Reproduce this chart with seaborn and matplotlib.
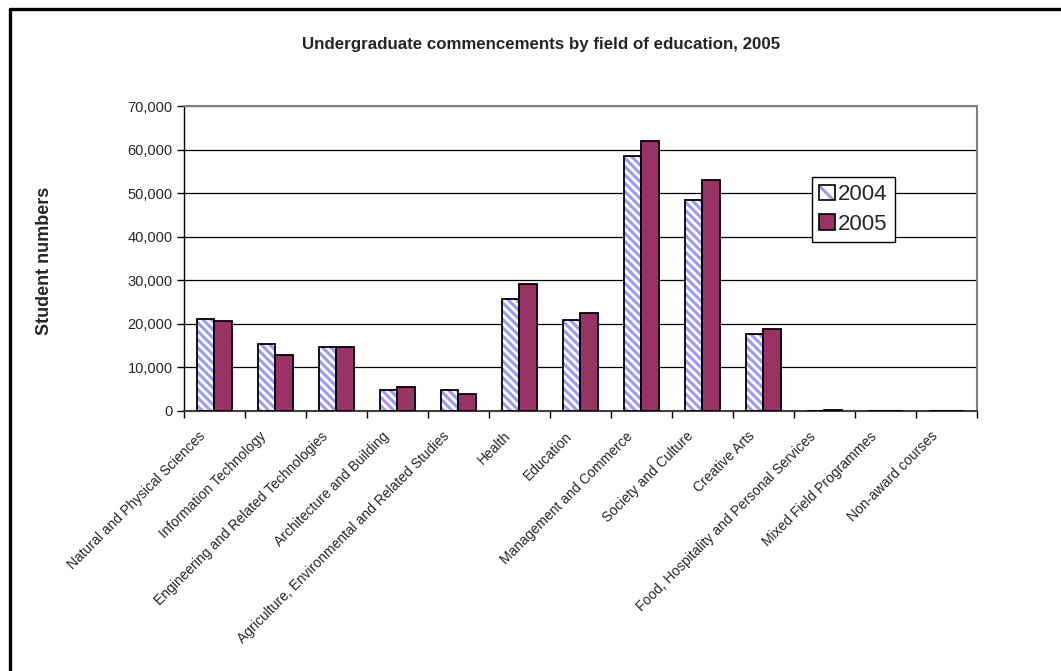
import numpy as np
import pandas as pd
import seaborn as sns
import matplotlib.pyplot as plt
from matplotlib.patches import Patch, Rectangle
from matplotlib.lines import Line2D
from matplotlib.ticker import FuncFormatter, FixedLocator
from matplotlib.transforms import ScaledTranslation

# Undergraduate commencements by broad field of education
categories = [
    "Natural and Physical Sciences",
    "Information Technology",
    "Engineering and Related Technologies",
    "Architecture and Building",
    "Agriculture, Environmental and Related Studies",
    "Health",
    "Education",
    "Management and Commerce",
    "Society and Culture",
    "Creative Arts",
    "Food, Hospitality and Personal Services",
    "Mixed Field Programmes",
    "Non-award courses",
]
students_2004 = [21180, 15380, 14690, 4890, 4890, 25640, 20960, 58600, 48430, 17670, 0, 0, 0]
students_2005 = [20720, 12850, 14620, 5580, 3900, 29150, 22420, 61900, 53020, 18890, 150, 0, 0]
years = ["2004", "2005"]
y_ticks = [0, 10000, 20000, 30000, 40000, 50000, 60000, 70000]

df = pd.DataFrame({
    "field": categories * 2,
    "year": [years[0]] * len(categories) + [years[1]] * len(categories),
    "students": students_2004 + students_2005,
})

sns.set_theme(style="white")
plt.rcParams["font.family"] = ["Liberation Sans", "DejaVu Sans"]
plt.rcParams["hatch.linewidth"] = 2.2

stripe_blue = "#9999FF"
plum = "#993366"
stripes = "\\\\\\\\"

fig = plt.figure(figsize=(10.61, 6.71), dpi=100)
ax = fig.add_axes([0.1734, 0.3875, 0.7474, 0.4545])

sns.barplot(
    data=df, x="field", y="students", hue="year",
    palette={"2004": "white", "2005": plum},
    width=0.58, edgecolor="black", linewidth=1.3,
    saturation=1, legend=False, ax=ax, zorder=3,
)

# 2004 bars: white with light blue diagonal stripes, outlined in black
for bar in ax.containers[0]:
    bar.set_hatch(stripes)
    bar.set_edgecolor(stripe_blue)
    bar.set_linewidth(0)
    outline = Rectangle(bar.get_xy(), bar.get_width(), bar.get_height(),
                        fill=False, edgecolor="black", linewidth=1.3, zorder=4)
    ax.add_patch(outline)

ax.set_xlim(-0.5, len(categories) - 0.5)
ax.set_ylim(0, 70000)
ax.yaxis.set_major_locator(FixedLocator(y_ticks))
ax.yaxis.set_major_formatter(FuncFormatter(lambda v, p: f"{v:,.0f}"))
ax.grid(axis="y", color="black", linewidth=0.9, zorder=0)
ax.set_axisbelow(True)

ax.set_xlabel("")
ax.set_ylabel("")
ax.set_xticks(range(len(categories)))
ax.xaxis.set_minor_locator(FixedLocator(np.arange(-0.5, len(categories), 1.0)))
ax.tick_params(axis="x", which="major", length=0, pad=8)
ax.tick_params(axis="x", which="minor", length=5, width=1, color="black", direction="out", bottom=True)
ax.tick_params(axis="y", length=5, width=1, color="black", direction="out", left=True, labelsize=10.5, pad=3)
ax.set_xticklabels(categories, rotation=45, ha="right", va="top",
                   rotation_mode="anchor", fontsize=10)
# nudge the slanted category labels down and to the left
shift = ScaledTranslation(-0.16, -0.07, fig.dpi_scale_trans)
for label in ax.get_xticklabels():
    label.set_transform(label.get_transform() + shift)

for side in ["top", "right"]:
    ax.spines[side].set_color("#808080")
    ax.spines[side].set_linewidth(1.5)
ax.spines["left"].set_color("black")
ax.spines["left"].set_linewidth(1)
ax.spines["bottom"].set_color("#404040")
ax.spines["bottom"].set_linewidth(1.5)

handles = [
    (Patch(facecolor="white", edgecolor=stripe_blue, hatch="\\\\", linewidth=0),
     Patch(fill=False, edgecolor="black", linewidth=1.2)),
    Patch(facecolor=plum, edgecolor="black", linewidth=1.2),
]
leg = ax.legend(handles, years, loc="upper left",
                bbox_to_anchor=(812 / 1061, 1 - 177 / 671),
                bbox_transform=fig.transFigure,
                fontsize=16, frameon=True, fancybox=False, shadow=False,
                handlelength=0.7, handleheight=0.7, handletextpad=0.15,
                labelspacing=0.38, borderpad=0.33, borderaxespad=0)
leg.get_frame().set_edgecolor("black")
leg.get_frame().set_linewidth(1)
leg.get_frame().set_alpha(1)

fig.text(0.5104, 1 - 45 / 671, "Undergraduate commencements by field of education, 2005",
         ha="center", va="center", fontsize=12.2, fontweight="bold")
fig.text(45 / 1061, 1 - 261 / 671, "Student numbers", rotation=90,
         ha="center", va="center", fontsize=13, fontweight="bold")

# Chart frame along the top and left edges
fig.add_artist(Line2D([10 / 1061, 1.0], [1 - 9 / 671, 1 - 9 / 671],
                      transform=fig.transFigure, color="black", linewidth=2.4))
fig.add_artist(Line2D([10 / 1061, 10 / 1061], [0.0, 1 - 9 / 671],
                      transform=fig.transFigure, color="black", linewidth=2.4))

fig.savefig("out.png", dpi=100, facecolor="white")
